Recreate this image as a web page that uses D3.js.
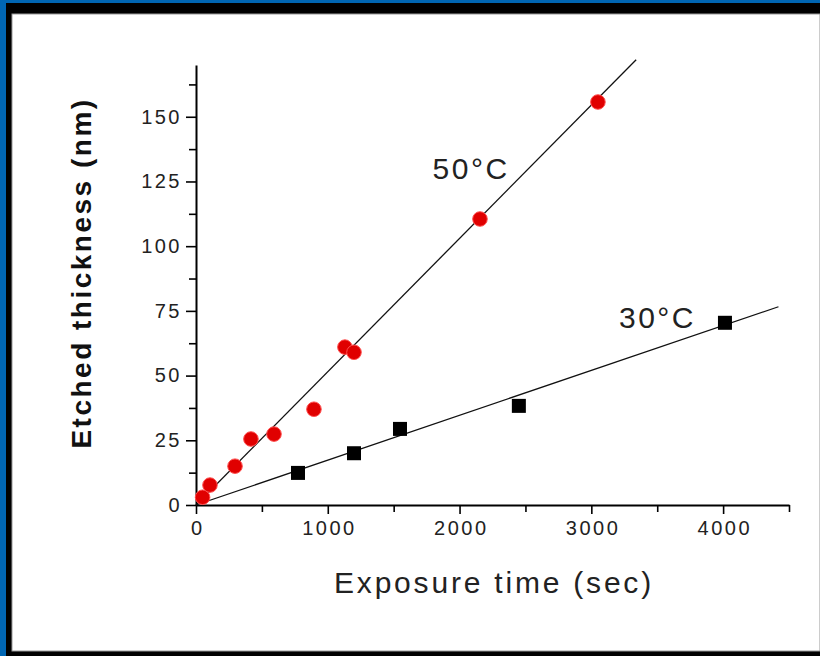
<!DOCTYPE html>
<html>
<head>
<meta charset="utf-8">
<script src="https://cdn.jsdelivr.net/npm/d3@7"></script>
<style>
html,body{margin:0;padding:0;background:#0066b3;}
svg{display:block;}
</style>
</head>
<body>
<svg id="chart" width="820" height="656"></svg>
<script>
// ---- data ----
const series50Time = [50, 106, 296, 417, 592, 895, 1130, 1199, 2155, 3050];
const series50Thick = [3, 7.7, 15, 25.5, 27.4, 37, 61, 59, 110.5, 155.7];
const series30Time = [774, 1199, 1548, 2450, 4014];
const series30Thick = [12.4, 20, 29.4, 38.3, 70.4];
const fitSlopes = [0.0515, 0.01733];      // nm per sec, 50°C and 30°C
const fitEnds = [3340, 4420];             // sec
const seriesLabels = ["50°C", "30°C"];
const xTicks = [0, 1000, 2000, 3000, 4000];
const xMinorTicks = [500, 1500, 2500, 3500, 4500];
const yTicks = [0, 25, 50, 75, 100, 125, 150];
const yMinorTicks = [12.5, 37.5, 62.5, 87.5, 112.5, 137.5, 162.5];
const xTitle = "Exposure time (sec)";
const yTitle = "Etched thickness (nm)";

const svg = d3.select("#chart");
// frame
svg.append("rect").attr("x",0).attr("y",0).attr("width",820).attr("height",656).attr("fill","#0066b3");
svg.append("rect").attr("x",6).attr("y",3).attr("width",814).attr("height",653).attr("fill","#000");
svg.append("rect").attr("x",12).attr("y",14).attr("width",808).attr("height",637).attr("fill","#fff")
  .attr("stroke","#999").attr("stroke-width",1);

const x = d3.scaleLinear().domain([0,4500]).range([196,789]);
const y = d3.scaleLinear().domain([0,170]).range([505,65]);

const font = "Arial, 'Liberation Sans', sans-serif";

// axes
const xAxis = d3.axisBottom(x).tickValues(xTicks).tickSize(9).tickSizeOuter(0).tickPadding(7).tickFormat(d3.format("d"));
const gx = svg.append("g").attr("transform",`translate(0,${y(0)})`).call(xAxis);
const gxm = svg.append("g").attr("transform",`translate(0,${y(0)})`)
  .call(d3.axisBottom(x).tickValues(xMinorTicks).tickSize(7).tickSizeOuter(0).tickFormat(""));
const yAxis = d3.axisLeft(y).tickValues(yTicks).tickSize(10).tickSizeOuter(0).tickPadding(4);
const gy = svg.append("g").attr("transform",`translate(${x(0)},0)`).call(yAxis);
const gym = svg.append("g").attr("transform",`translate(${x(0)},0)`)
  .call(d3.axisLeft(y).tickValues(yMinorTicks).tickSize(7).tickSizeOuter(0).tickFormat(""));
[gx,gxm,gy,gym].forEach(g=>{
  g.select(".domain").attr("stroke","#000").attr("stroke-width",2);
  g.selectAll(".tick line").attr("stroke","#000").attr("stroke-width",1.6);
  g.selectAll("text").attr("font-family",font).attr("font-size",20)
    .attr("letter-spacing","2.5px").attr("fill","#222");
});
gx.selectAll("text").attr("dx","1.2px");
gym.select(".domain").remove();
gxm.select(".domain").remove();

// fit lines
const lineGen = d3.line().x(d=>x(d[0])).y(d=>y(d[1]));
fitSlopes.forEach((s,i)=>{
  svg.append("path").datum([[0,0],[fitEnds[i], s*fitEnds[i]]])
    .attr("d",lineGen).attr("fill","none").attr("stroke","#111").attr("stroke-width",1.3);
});

// 50°C red circles
const d50 = series50Time.map((t,i)=>[t,series50Thick[i]]);
svg.append("g").selectAll("circle").data(d50).join("circle")
  .attr("cx",d=>x(d[0])).attr("cy",d=>y(d[1])).attr("r",7.3)
  .attr("fill","#e00000").attr("stroke","#ff5050").attr("stroke-width",1);

// 30°C black squares
const d30 = series30Time.map((t,i)=>[t,series30Thick[i]]);
const sq = 14;
svg.append("g").selectAll("rect").data(d30).join("rect")
  .attr("x",d=>x(d[0])-sq/2).attr("y",d=>y(d[1])-sq/2).attr("width",sq).attr("height",sq)
  .attr("fill","#000");

// annotations
svg.append("text").attr("x",x(1795)).attr("y",y(126)).text(seriesLabels[0])
  .attr("font-family",font).attr("font-size",30).attr("letter-spacing","2.5px").attr("fill","#222");
svg.append("text").attr("x",x(3210)).attr("y",y(68.5)).text(seriesLabels[1])
  .attr("font-family",font).attr("font-size",30).attr("letter-spacing","2.5px").attr("fill","#222");

// titles
svg.append("text").attr("x",494).attr("y",593).attr("text-anchor","middle").text(xTitle)
  .attr("font-family",font).attr("font-size",30).attr("letter-spacing","2.8px").attr("fill","#222");
svg.append("text").attr("transform","translate(91,273) rotate(-90)").attr("text-anchor","middle").text(yTitle)
  .attr("font-family",font).attr("font-size",28).attr("letter-spacing","2.5px")
  .attr("font-weight","bold").attr("fill","#111");
</script>
</body>
</html>
